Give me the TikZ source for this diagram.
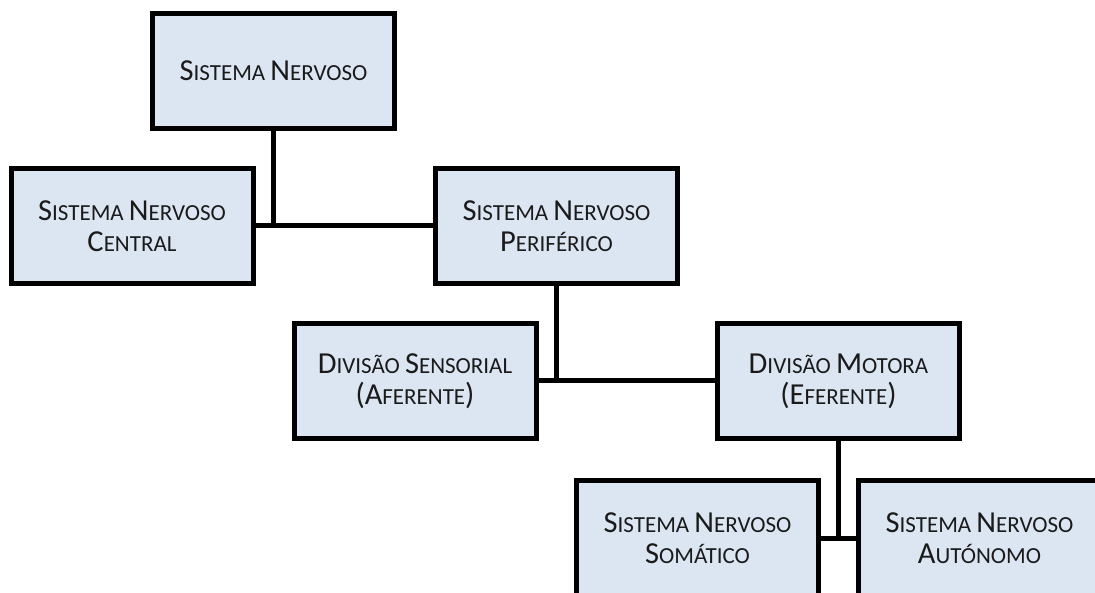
\documentclass[tikz,border=0pt]{standalone}
\usepackage{fontspec}
\setmainfont{Carlito}
\definecolor{boxfill}{HTML}{DCE6F2}
\definecolor{boxtext}{HTML}{1A1A1A}
% initial capital of a small-caps word
\newcommand\initcap[1]{{\fontsize{30.5}{31}\selectfont #1}}
\begin{document}
\begin{tikzpicture}[x=1pt,y=-1pt,
  unit/.style={draw=black, line width=5pt, fill=boxfill, text=boxtext,
    minimum width=242pt, minimum height=115pt, inner sep=0pt,
    align=center, font=\fontsize{23}{31}\selectfont},
  link/.style={draw=black, line width=5pt}]
\useasboundingbox (0,0) rectangle (1095,593);
\clip (0,0) rectangle (1095,593);

% boxes of the hierarchy
\node[unit] (sn)   at (273.5,71)  {\initcap{S}ISTEMA \initcap{N}ERVOSO};
\node[unit] (snc)  at (132,226)   {\initcap{S}ISTEMA \initcap{N}ERVOSO\\\initcap{C}ENTRAL};
\node[unit] (snp)  at (556.5,226) {\initcap{S}ISTEMA \initcap{N}ERVOSO\\\initcap{P}ERIFÉRICO};
\node[unit] (sens) at (415,381)   {\initcap{D}IVISÃO \initcap{S}ENSORIAL\\\initcap{(A}FERENTE\initcap{)}};
\node[unit] (mot)  at (838.5,381) {\initcap{D}IVISÃO \initcap{M}OTORA\\\initcap{(E}FERENTE\initcap{)}};
\node[unit] (som)  at (697.5,538) {\initcap{S}ISTEMA \initcap{N}ERVOSO\\\initcap{S}OMÁTICO};
\node[unit] (aut)  at (979.5,538) {\initcap{S}ISTEMA \initcap{N}ERVOSO\\\initcap{A}UTÓNOMO};

% branch connectors
\draw[link] (sn.south) -- (sn.south |- snc.east);
\draw[link] (snc.east) -- (snp.west);
\draw[link] (snp.south) -- (snp.south |- sens.east);
\draw[link] (sens.east) -- (mot.west);
\draw[link] (mot.south) -- (mot.south |- som.east);
\draw[link] (som.east) -- (aut.west);
\end{tikzpicture}
\end{document}
